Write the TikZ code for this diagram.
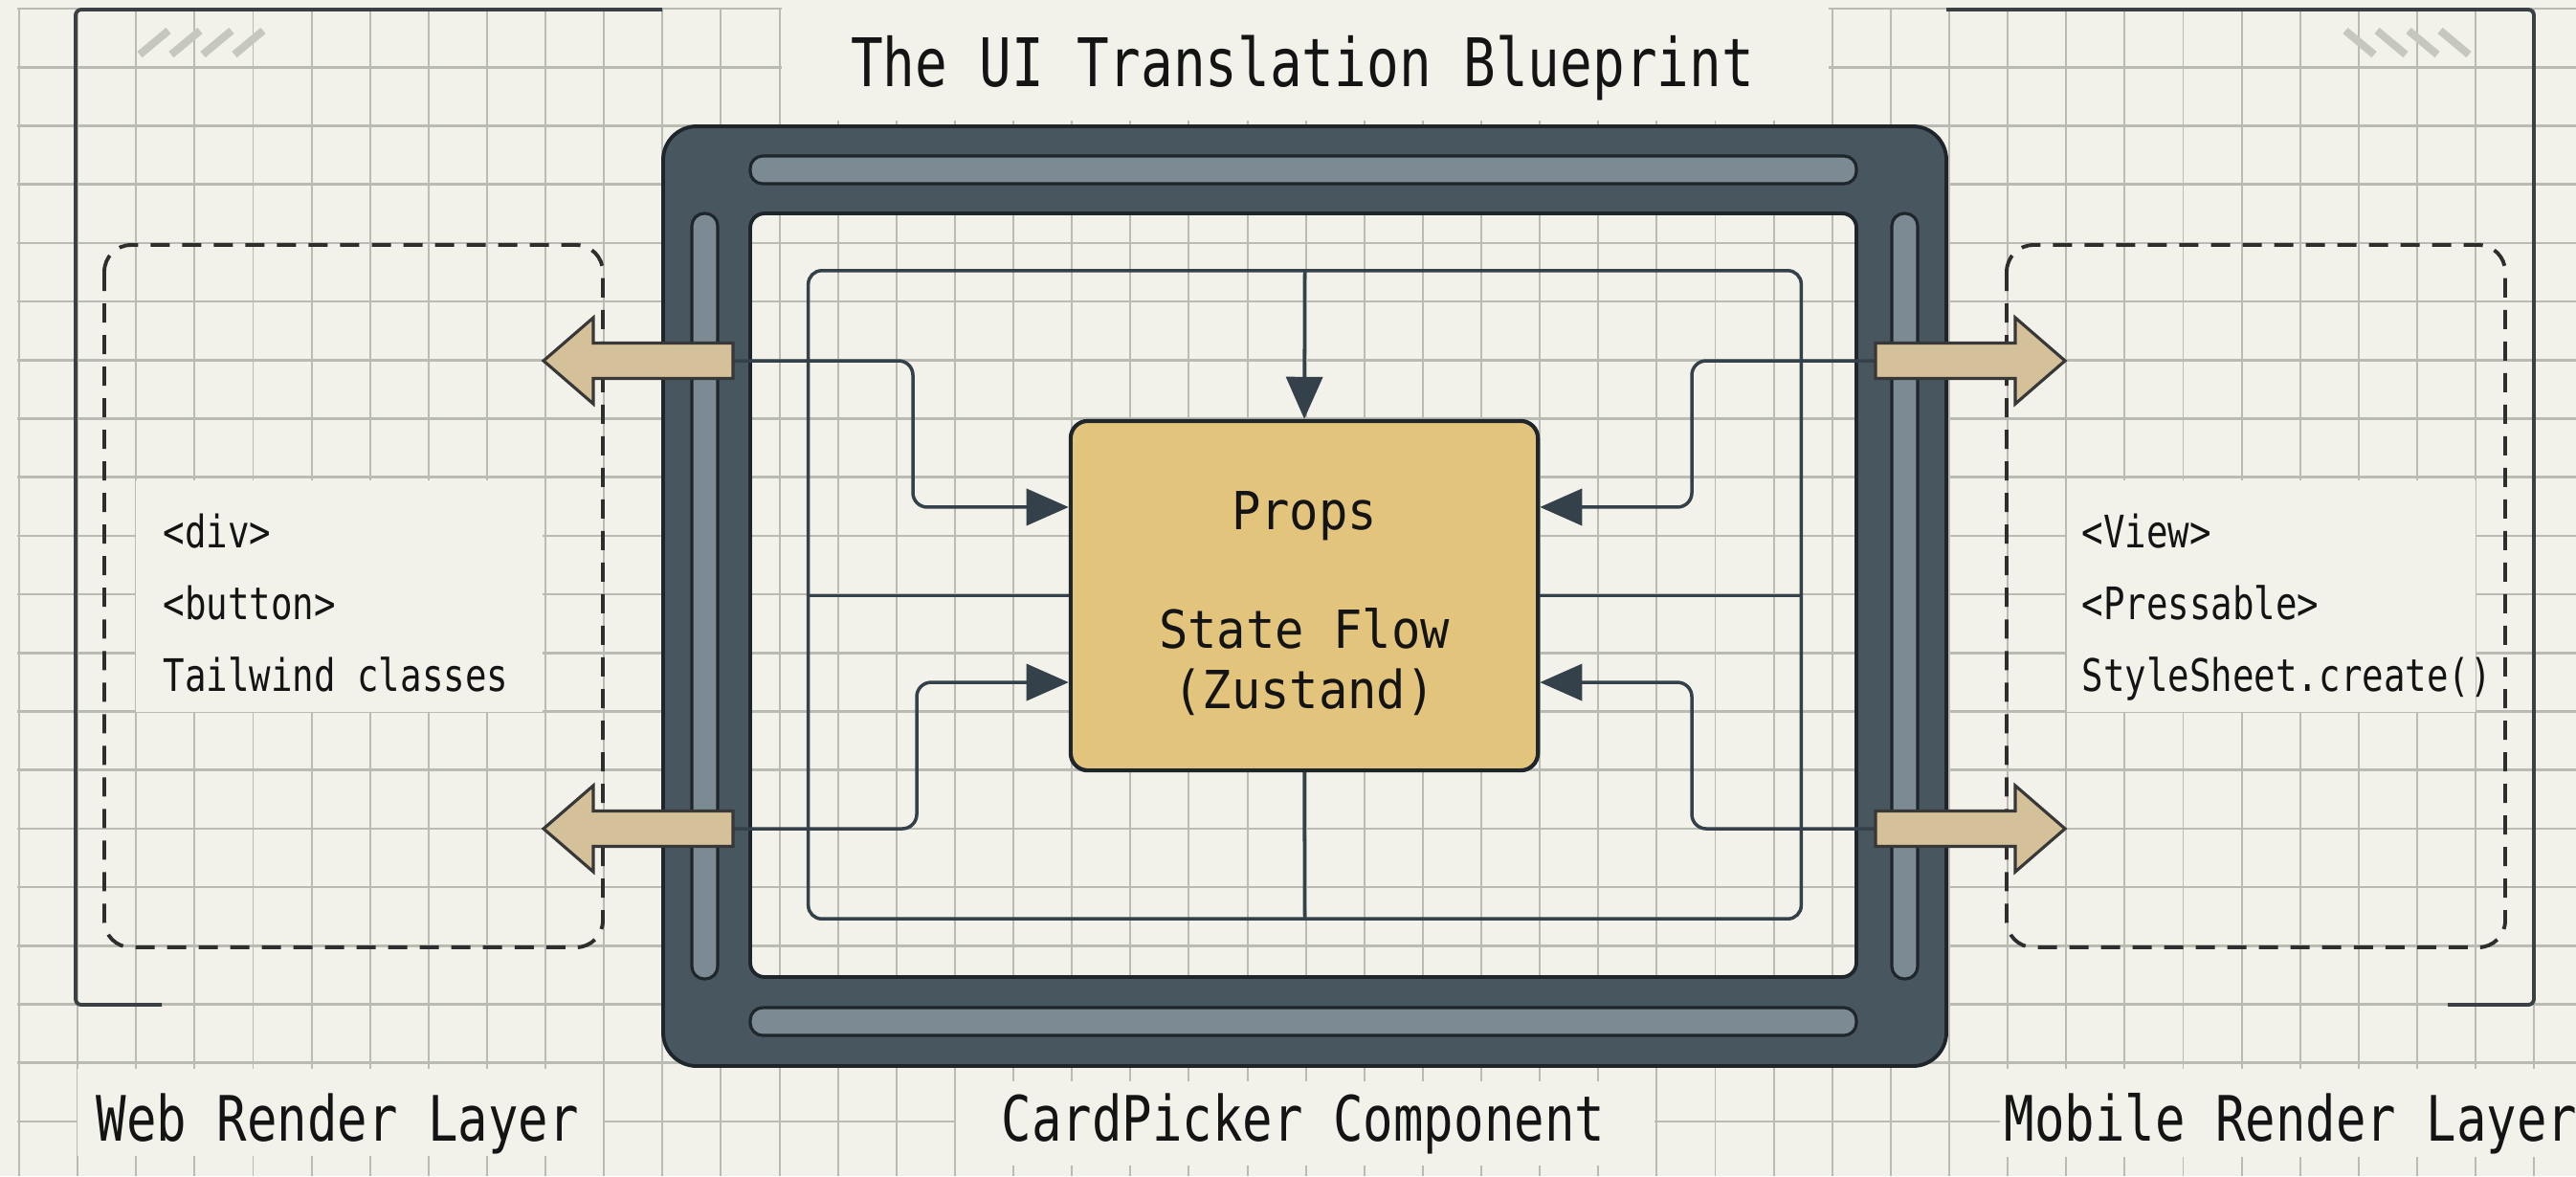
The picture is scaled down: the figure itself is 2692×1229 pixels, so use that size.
\documentclass[tikz,border=0pt]{standalone}
\usepackage{fontspec}
\usetikzlibrary{arrows.meta,calc}
\newfontfamily\monoface[FakeStretch=0.8]{DejaVu Sans Mono}
\newfontfamily\boxface[FakeStretch=0.92]{DejaVu Sans Mono}
\definecolor{paper}{HTML}{F2F2EA}
\definecolor{gridln}{HTML}{BABBB3}
\definecolor{framefill}{HTML}{48565F}
\definecolor{slotfill}{HTML}{7C8A93}
\definecolor{edgeink}{HTML}{1E262C}
\definecolor{wire}{HTML}{34414A}
\definecolor{corefill}{HTML}{E3C47C}
\definecolor{tanfill}{HTML}{D5C199}
\definecolor{ink}{HTML}{141414}
\definecolor{hatchink}{HTML}{C6C7BE}
\definecolor{bracketink}{HTML}{3B4044}

\begin{document}
\begin{tikzpicture}[x=0.01cm,y=-0.01cm,
  bracket/.style={draw=bracketink,line width=1.1pt},
  dashpanel/.style={draw=black!82,line width=1.1pt,dash pattern=on 0.2cm off 0.13cm,rounded corners=0.28cm},
  slotbar/.style={fill=slotfill,draw=edgeink,line width=0.9pt,rounded corners=0.13cm},
  conn/.style={draw=wire,line width=1pt,rounded corners=0.15cm},
  tip/.style={-{Triangle[length=0.44cm,width=0.38cm]}},
  tanarrow/.style={fill=tanfill,draw=black!78,line width=0.9pt,line join=miter},
  hatchln/.style={draw=hatchink,line width=2.3pt},
  title/.style={font=\monoface\fontsize{19.9}{24}\selectfont,text=ink,inner sep=0,anchor=base},
  layer/.style={font=\monoface\fontsize{18.6}{22}\selectfont,text=ink,inner sep=0},
  code/.style={font=\monoface\fontsize{13.3}{16}\selectfont,text=ink,inner sep=0,anchor=base west},
  coretext/.style={font=\boxface\fontsize{15.6}{19}\selectfont,text=ink,inner sep=0,anchor=base},
  tanL/.pic={\path[tanarrow] (0,0) -- (52,-45) -- (52,-18.5) -- (198,-18.5) -- (198,18.5) -- (52,18.5) -- (52,45) -- cycle;}
]
\useasboundingbox (0,0) rectangle (2692,1229);
\fill[paper] (0,0) rectangle (2692,1229);

% drafting grid
\foreach \k in {0,...,43}
  \draw[gridln,line width=0.55pt] ({20+61.12*\k},9) -- ({20+61.12*\k},1229);
\foreach \j in {0,...,19}
  \draw[gridln,line width=0.75pt] (18,{9+61.2*\j}) -- (2692,{9+61.2*\j});

% clear patches behind the lettering
\fill[paper] (817,0) rectangle (1911,126);
\fill[paper] (142,502) rectangle (567,744);
\fill[paper] (2160,502) rectangle (2587,744);
\fill[paper] (81,1117) rectangle (630,1208);
\fill[paper] (999,1130) rectangle (1729,1218);
\fill[paper] (2090,1117) rectangle (2692,1209);

% render layer brackets
\draw[bracket,rounded corners=0.06cm] (692,10) -- (79,10) -- (79,1050) -- (169,1050);
\draw[bracket,rounded corners=0.06cm] (2034,10) -- (2648,10) -- (2648,1050) -- (2558,1050);

% hatch marks in the bracket corners
\foreach \i in {0,1,2,3}{
  \draw[hatchln] ({146+33*\i},57) -- ({176+33*\i},32);
  \draw[hatchln] ({2580-33*\i},57) -- ({2550-33*\i},32);
}

% dashed output panels
\draw[dashpanel] (109,256) rectangle (630,990);
\draw[dashpanel] (2097,256) rectangle (2618,990);

% component frame
\fill[framefill,even odd rule]
  [rounded corners=0.35cm] (693,132) rectangle (2034,1114)
  [rounded corners=0.15cm] (784,223) rectangle (1940,1021);
\draw[edgeink,line width=1.1pt,rounded corners=0.35cm] (693,132) rectangle (2034,1114);
\draw[edgeink,line width=1.1pt,rounded corners=0.15cm] (784,223) rectangle (1940,1021);
\draw[slotbar] (784,163) rectangle (1940,192);
\draw[slotbar] (784,1053) rectangle (1940,1082);
\draw[slotbar] (723,223) rectangle (750,1023);
\draw[slotbar] (1977,223) rectangle (2004,1023);

% inner routing loop and the state core
\node[draw=wire,line width=1pt,rounded corners=0.14cm,minimum width=10.37cm,minimum height=6.77cm,inner sep=0] (loop) at (1363.5,621.5) {};
\node[fill=corefill,draw=edgeink,line width=1.2pt,rounded corners=0.18cm,minimum width=4.88cm,minimum height=3.65cm,inner sep=0] (core) at (1363,622.5) {};
\node[coretext] (props) at (1363,553) {Props};
\node[coretext] (stateflow) at (1363,677) {State Flow};
\node[coretext] (zustand) at (1363,740) {(Zustand)};

% tails of the export arrows
\coordinate (webUp) at (766,377);
\coordinate (webLo) at (766,866);
\coordinate (mobUp) at (1960,377);
\coordinate (mobLo) at (1960,866);

% wiring
\draw[conn,tip] (loop.north) -- (core.north);
\draw[conn] (core.south) -- (loop.south);
\draw[conn] (core.west -| loop.west) -- (core.west);
\draw[conn] (core.east) -- (core.east -| loop.east);
\draw[conn,tip] (webUp) -- (954,377) |- ([yshift=0.925cm]core.west);
\draw[conn,tip] (webLo) -- (958,866) |- ([yshift=-0.905cm]core.west);
\draw[conn,tip] (mobUp) -- (1768,377) |- ([yshift=0.925cm]core.east);
\draw[conn,tip] (mobLo) -- (1768,866) |- ([yshift=-0.905cm]core.east);

% export arrows
\pic at (568,377) {tanL};
\pic at (568,866) {tanL};
\pic[xscale=-1] at (2158,377) {tanL};
\pic[xscale=-1] at (2158,866) {tanL};

% lettering
\node[title] (heading) at (1361,90) {The UI Translation Blueprint};
\node[code] (webA) at (170,572) {<div>};
\node[code] (webB) at (170,647) {<button>};
\node[code] (webC) at (170,722) {Tailwind classes};
\node[code] (mobA) at (2175,572) {<View>};
\node[code] (mobB) at (2175,647) {<Pressable>};
\node[code] (mobC) at (2175,722) {StyleSheet.create()};
\node[layer,anchor=base west] (webLayer) at (100,1192) {Web Render Layer};
\node[layer,anchor=base] (compLayer) at (1362,1192) {CardPicker Component};
\node[layer,anchor=base west] (mobLayer) at (2094,1192) {Mobile Render Layer};
\end{tikzpicture}
\end{document}
